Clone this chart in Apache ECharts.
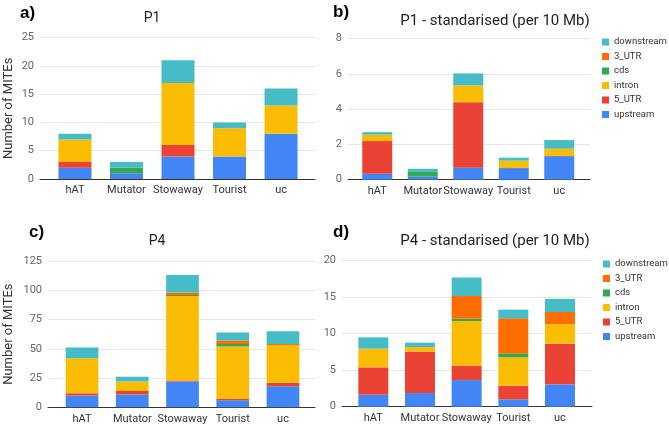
<!DOCTYPE html>
<html>
<head>
<meta charset="utf-8">
<script src="https://cdn.jsdelivr.net/npm/echarts@6/dist/echarts.min.js"></script>
<style>
html,body{margin:0;padding:0;background:#fff;}
#chart{width:669px;height:427px;}
</style>
</head>
<body>
<div id="chart"></div>
<script>
const categories = ['hAT', 'Mutator', 'Stowaway', 'Tourist', 'uc'];
const seriesNames = ['upstream', '5_UTR', 'intron', 'cds', '3_UTR', 'downstream'];
const legendOrder = ['downstream', '3_UTR', 'cds', 'intron', '5_UTR', 'upstream'];
const colors = {upstream:'#4285F4', '5_UTR':'#EA4335', intron:'#FBBC04', cds:'#34A853', '3_UTR':'#FF6D01', downstream:'#46BDC6'};

// a) P1 counts
const p1_upstream   = [2, 1, 4, 4, 8];
const p1_5utr       = [1, 0, 2, 0, 0];
const p1_intron     = [4, 0, 11, 5, 5];
const p1_cds        = [0, 1, 0, 0, 0];
const p1_3utr       = [0, 0, 0, 0, 0];
const p1_downstream = [1, 1, 4, 1, 3];

// b) P1 standardised (per 10 Mb)
const p1s_upstream   = [0.34, 0.17, 0.68, 0.66, 1.34];
const p1s_5utr       = [1.85, 0, 3.72, 0, 0];
const p1s_intron     = [0.36, 0, 0.95, 0.42, 0.42];
const p1s_cds        = [0, 0.27, 0, 0, 0];
const p1s_3utr       = [0, 0, 0, 0, 0];
const p1s_downstream = [0.15, 0.18, 0.68, 0.17, 0.49];

// c) P4 counts
const p4_upstream   = [10, 11, 22, 6, 18];
const p4_5utr       = [2, 3, 1, 1, 3];
const p4_intron     = [30, 8, 72, 45, 32];
const p4_cds        = [0, 0, 1, 2, 0];
const p4_3utr       = [0, 0, 2, 3, 1];
const p4_downstream = [9, 4, 15, 7, 11];

// d) P4 standardised (per 10 Mb)
const p4s_upstream   = [1.64, 1.87, 3.65, 1.0, 3.06];
const p4s_5utr       = [3.75, 5.66, 1.97, 1.88, 5.57];
const p4s_intron     = [2.56, 0.64, 6.12, 3.88, 2.67];
const p4s_cds        = [0, 0, 0.31, 0.54, 0];
const p4s_3utr       = [0, 0, 3.11, 4.8, 1.67];
const p4s_downstream = [1.55, 0.6, 2.54, 1.2, 1.78];

// axis ranges / titles
const panelTitles = ['P1', 'P1 - standarised (per 10 Mb)', 'P4', 'P4 - standarised (per 10 Mb)'];
const panelLabels = ['a)', 'b)', 'c)', 'd)'];
const yMax = [25, 8, 125, 20];
const yInterval = [5, 2, 25, 5];

const panelData = [
  [p1_upstream, p1_5utr, p1_intron, p1_cds, p1_3utr, p1_downstream],
  [p1s_upstream, p1s_5utr, p1s_intron, p1s_cds, p1s_3utr, p1s_downstream],
  [p4_upstream, p4_5utr, p4_intron, p4_cds, p4_3utr, p4_downstream],
  [p4s_upstream, p4s_5utr, p4s_intron, p4s_cds, p4s_3utr, p4s_downstream]
];

// layout (pixels)
const bgGrids = [
  {left: 40, right: 354, top: 37.7, bottom: 248},
  {left: 348, right: 79, top: 38.7, bottom: 247.3},
  {left: 48, right: 354, top: 261, bottom: 19.7},
  {left: 342, right: 77, top: 260.7, bottom: 20.3}
];
const barGrids = [
  {left: 49.2, right: 669 - 306.8},
  {left: 354.5, right: 669 - 582},
  {left: 56.9, right: 669 - 308.1},
  {left: 350, right: 669 - 583.3}
];
const barWidths = [33, 30, 32.7, 30];
const titlePos = [[152, 18], [495, 21], [157, 241], [495, 241]];
const labelPos = [[20, 5], [333, 4], [29, 224], [333, 224]];

const FONT = 'Roboto, Arial, sans-serif';
const grid = [], xAxis = [], yAxis = [], series = [], graphic = [];

for (let p = 0; p < 4; p++) {
  const bg = bgGrids[p];
  grid.push({left: bg.left, right: bg.right, top: bg.top, bottom: bg.bottom, containLabel: false});
  grid.push({left: barGrids[p].left, right: barGrids[p].right, top: bg.top, bottom: bg.bottom, containLabel: false});
  const gBg = 2 * p, gBar = 2 * p + 1;
  xAxis.push({gridIndex: gBg, type: 'value', min: 0, max: 1,
    axisLine: {show: true, lineStyle: {color: '#333', width: 1}},
    axisTick: {show: false}, axisLabel: {show: false}, splitLine: {show: false}});
  yAxis.push({gridIndex: gBg, type: 'value', min: 0, max: yMax[p], interval: yInterval[p],
    axisLine: {show: false}, axisTick: {show: false},
    axisLabel: {color: '#666', fontSize: 11, fontFamily: FONT, margin: 6},
    splitLine: {lineStyle: {color: '#e6e6e6', width: 1}},
    name: (p % 2 === 0) ? 'Number of MITEs' : '',
    nameLocation: 'middle', nameGap: (p === 0 ? 25 : 33), nameRotate: 90,
    nameTextStyle: {color: '#333', fontSize: 13, fontFamily: FONT}});
  xAxis.push({gridIndex: gBar, type: 'category', data: categories,
    axisLine: {show: false}, axisTick: {show: false},
    axisLabel: {color: '#333', fontSize: 11, fontFamily: FONT, margin: 6, interval: 0},
    splitLine: {show: false}});
  yAxis.push({gridIndex: gBar, type: 'value', min: 0, max: yMax[p], interval: yInterval[p], show: false,
    splitLine: {show: false}});
  for (let s = 0; s < seriesNames.length; s++) {
    series.push({
      name: seriesNames[s], type: 'bar', stack: 'panel' + p,
      xAxisIndex: gBar, yAxisIndex: gBar,
      barWidth: barWidths[p],
      itemStyle: {color: colors[seriesNames[s]]},
      data: panelData[p][s]
    });
  }
  graphic.push({type: 'text', x: titlePos[p][0], y: titlePos[p][1],
    style: {text: panelTitles[p], fill: '#222', fontSize: (p % 2 === 0 ? 14 : 15), fontFamily: FONT,
      align: 'center', verticalAlign: 'middle'}});
  graphic.push({type: 'text', left: labelPos[p][0], top: labelPos[p][1],
    style: {text: panelLabels[p], fill: '#000', fontSize: 17, fontWeight: 'bold', fontFamily: 'Arial, Liberation Sans, sans-serif'}});
}

const legendCommon = {
  orient: 'vertical', data: legendOrder, itemWidth: 7, itemHeight: 7, itemGap: 4.5,
  icon: 'rect', textStyle: {color: '#333', fontSize: 9.5, fontFamily: FONT}
};

const option = {
  animation: false,
  backgroundColor: '#fff',
  grid, xAxis, yAxis, series, graphic,
  legend: [
    Object.assign({}, legendCommon, {left: 597, top: 32, padding: [5, 0, 5, 5]}),
    Object.assign({}, legendCommon, {left: 598, top: 254, padding: [5, 0, 5, 5]})
  ]
};

const chart = echarts.init(document.getElementById('chart'), null, {renderer: 'canvas'});
chart.setOption(option);
</script>
</body>
</html>
